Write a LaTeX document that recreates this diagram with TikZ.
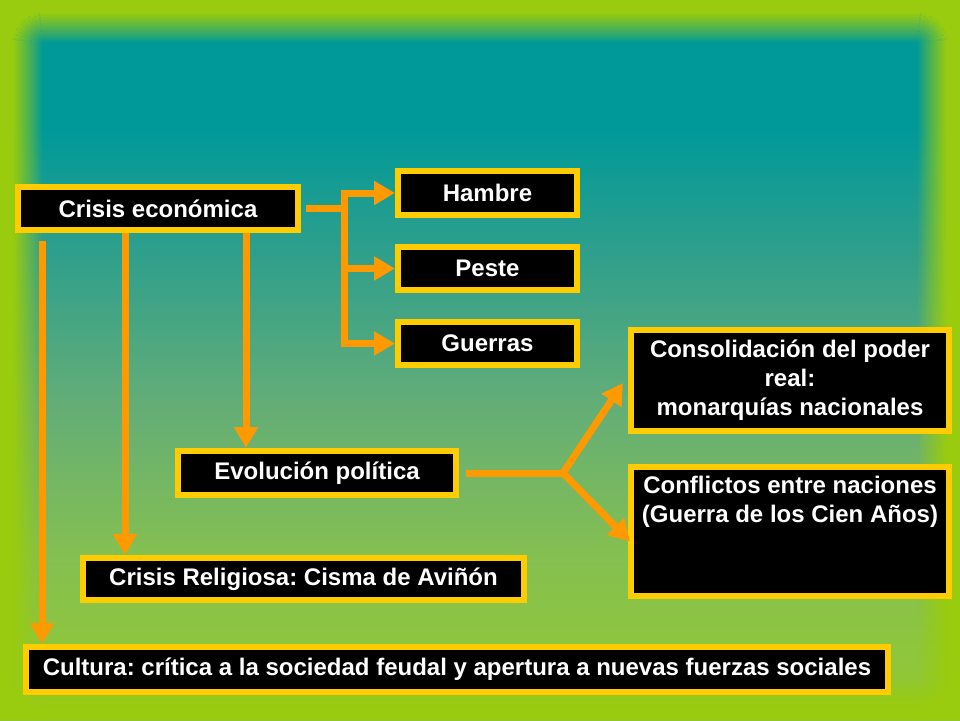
\documentclass[tikz,border=0pt]{standalone}
\usepackage{fontspec}
\setmainfont{Liberation Sans}
\usetikzlibrary{arrows.meta,calc}
\definecolor{bglime}{HTML}{99CC0F}
\definecolor{bgteal}{HTML}{009999}
\definecolor{bgA}{HTML}{2E9F8C}
\definecolor{bgB}{HTML}{62AD78}
\definecolor{bgC}{HTML}{84BF52}
\definecolor{bgD}{HTML}{8EC63D}
\definecolor{bgE}{HTML}{93C832}
\definecolor{boxyellow}{HTML}{FFCC00}
\definecolor{arroworange}{HTML}{FF9900}
\pgfdeclareverticalshading{bgshade}{100bp}{color(0bp)=(bgE); color(25bp)=(bgE); color(29.9bp)=(bgD); color(36.8bp)=(bgC); color(47.2bp)=(bgB); color(57.6bp)=(bgA); color(66bp)=(bgteal); color(100bp)=(bgteal)}
\begin{document}
\begin{tikzpicture}[x=1pt,y=-1pt,
  box/.style={draw=boxyellow, fill=black, line width=6pt, inner sep=0pt, outer sep=3pt,
    text=white, font=\fontsize{24}{29}\selectfont\bfseries\frenchspacing, align=center},
  conn/.style={draw=arroworange, line width=7pt},
  arr/.style={conn, -{Triangle[width=23pt,length=21pt]}}]
% background
\useasboundingbox (0,0) rectangle (960,720);
\shade[shading=bgshade] (0,0) rectangle (960,720);
\fill[bglime, even odd rule] (0,0) rectangle (960,720)
  [rounded corners=31pt] (13,13) rectangle (947,707);
\foreach \k in {0,...,14}{
  \pgfmathsetmacro{\op}{1-(\k+0.5)/15}
  \pgfmathsetmacro{\ins}{14+2*\k}
  \pgfmathsetmacro{\rad}{30-2*\k}
  \draw[bglime, line width=2.05pt, draw opacity=\op, rounded corners=\rad pt]
    (\ins,\ins) rectangle (960-\ins,720-\ins);
}
% boxes
\node[box, minimum width=280pt, minimum height=43pt] (eco) at (158,208.5) {Crisis económica};
\node[box, minimum width=179pt, minimum height=44pt] (hambre) at (487.5,193) {Hambre};
\node[box, minimum width=179pt, minimum height=43pt] (peste) at (487.5,268.5) {Peste};
\node[box, minimum width=179pt, minimum height=43pt] (guerras) at (487.5,343.5) {Guerras};
\node[box, minimum width=318pt, minimum height=101pt] (consol) at (790,380.5) {Consolidación del poder\\real:\\monarquías nacionales};
\node[box, minimum width=318pt, minimum height=129pt] (conflict) at (790,531.5) {};
\node[text=white, font=\fontsize{24}{29}\selectfont\bfseries\frenchspacing, align=center, inner sep=0pt] (conflicttxt) at (790,502) {Conflictos entre naciones\\(Guerra de los Cien Años)};
\node[box, minimum width=278pt, minimum height=44pt] (evol) at (317,473) {Evolución política};
\node[box, minimum width=441pt, minimum height=42pt] (relig) at (303.5,579) {Crisis Religiosa: Cisma de Aviñón};
\node[box, minimum width=862pt, minimum height=45pt] (cult) at (457,669.5) {Cultura: crítica a la sociedad feudal y apertura a nuevas fuerzas sociales};
% fork from Crisis economica
\coordinate (fk) at (344,209);
\draw[conn] ($(eco.east)+(5,0)$) -- (fk |- eco.east);
\draw[conn, line cap=rect] (hambre.west -| fk) -- (guerras.west -| fk);
\foreach \n in {hambre,peste,guerras}
  \draw[arr] (\n.west -| fk) -- (\n.west);
% vertical arrows
\coordinate (c1) at (42,241);
\draw[arr] (c1) -- (c1 |- cult.north);
\coordinate (c2) at (125,0);
\draw[arr] (eco.south -| c2) -- (relig.north -| c2);
\coordinate (c3) at (246,0);
\draw[arr] (eco.south -| c3) -- (evol.north -| c3);
% fork from Evolucion politica
\coordinate (j) at (563,473);
\draw[conn] ($(evol.east)+(7,0)$) -- (j);
\draw[arr, line cap=round] (j) -- ($(consol.west)+(-5,2.5)$);
\draw[arr, line cap=round] (j) -- ($(conflict.west)+(2,10)$);
\end{tikzpicture}
\end{document}
